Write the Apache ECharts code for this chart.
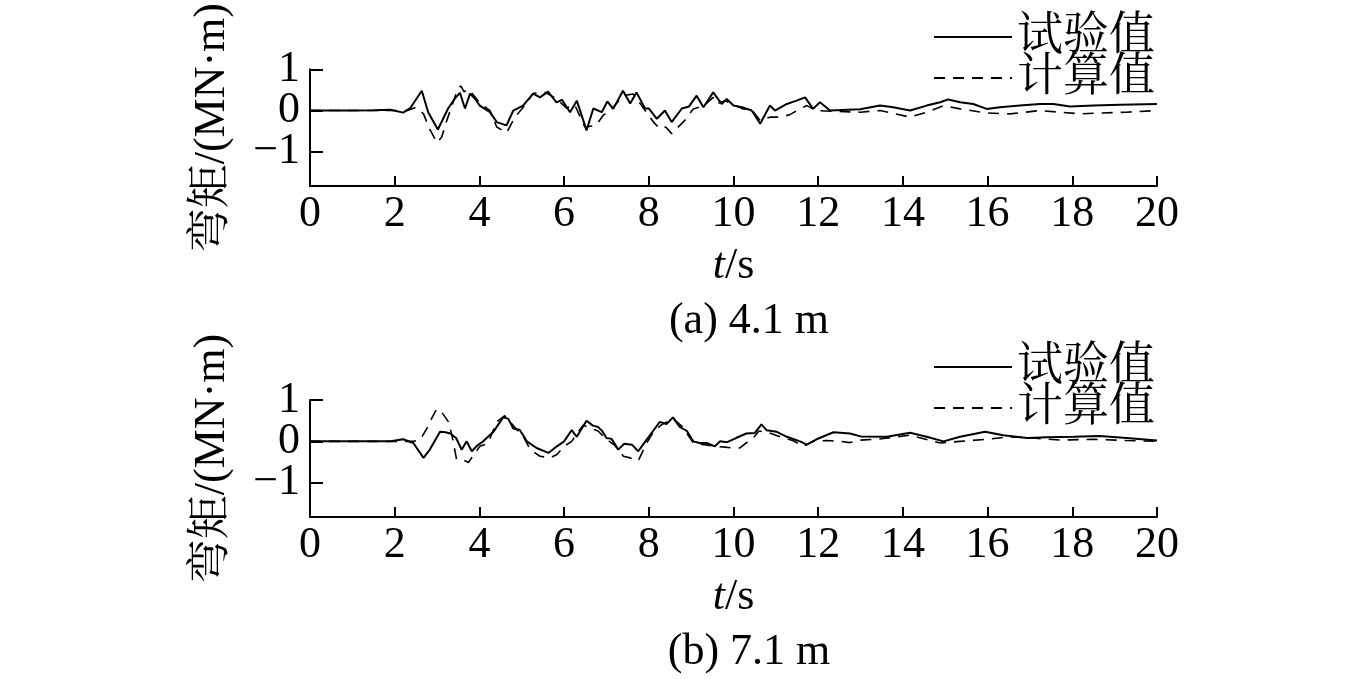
<!DOCTYPE html>
<html><head><meta charset="utf-8">
<script src="https://cdn.jsdelivr.net/npm/echarts@6/dist/echarts.min.js"></script>
<style>html,body{margin:0;padding:0;background:#fff}#c{width:1354px;height:679px}</style>
</head><body><div id="c"></div>
<script>
// (a) 4.1 m — experimental
const tA_exp = [0,1,1.5,1.9,2.2,2.36,2.64,2.79,3.02,3.26, 3.42,3.54,3.66,3.78,3.9,4.01,4.25,4.41,4.64,4.8, 5.03,5.27,5.43,5.62,5.82,5.95,6.14,6.3,6.53,6.69, 6.89,7.02,7.16,7.39,7.56,7.71,7.91,8.0,8.19,8.38, 8.54,8.78,8.95,9.13,9.29,9.52,9.72,9.84,10.0,10.2, 10.43,10.63,10.86,10.98,11.26,11.49,11.69,11.88,12.04,12.28, 12.99,13.46,13.77,14.17,14.56,14.88,15.07,15.35,15.66,15.98, 16.29,16.76,17.24,17.55,17.95,18.5,19.13,20];
const vA_exp = [0,0,0.01,0.02,-0.05,0.05,0.48,-0.04,-0.46,0.05, 0.29,0.43,0.05,0.41,0.28,0.12,-0.04,-0.28,-0.36,0, 0.12,0.41,0.32,0.46,0.2,0.26,-0.04,0.24,-0.48,0.05, -0.04,0.22,0.04,0.48,0.17,0.44,0.05,0.05,-0.2,0, -0.28,0.05,0.1,0.36,0.08,0.44,0.16,0.28,0.12,0.08, 0,-0.32,0.12,0,0.16,0.24,0.32,0.04,0.2,0, 0.03,0.12,0.08,0,0.12,0.2,0.27,0.2,0.16,0.04, 0.08,0.12,0.16,0.16,0.1,0.12,0.14,0.16];
// (a) 4.1 m — calculated
const tA_cal = [0,1,2,2.3,2.5,2.68,2.83,3.0,3.11,3.23, 3.36,3.48,3.56,3.64,3.72,3.84,4.01,4.25,4.41,4.64, 4.84,5.05,5.27,5.55,5.8,6.06,6.25,6.49,6.75,6.92, 7.16,7.39,7.63,7.86,8.11,8.26,8.4,8.54,8.85,9.05, 9.3,9.52,9.6,9.8,10.0,10.23,10.43,10.63,10.86,11.1, 11.33,11.57,11.73,11.96,12.36,12.99,13.46,14.17,14.56,14.96, 15.35,15.98,16.53,17.24,17.71,18.18,18.65,19.28,20];
const vA_cal = [0,0,0,0,0.08,-0.08,-0.46,-0.78,-0.64,-0.24, 0.14,0.5,0.6,0.45,0.52,0.4,0.18,0,-0.4,-0.54, -0.16,0.1,0.42,0.44,0.3,0.06,0.14,-0.4,-0.36,-0.12, 0.08,0.36,0.4,0.08,-0.28,-0.44,-0.4,-0.56,-0.24,0.04, 0.12,0.32,0.16,0.24,0.14,0.04,0.02,-0.24,-0.16,-0.16, -0.1,0.04,0.12,0,-0.02,-0.04,0,-0.16,-0.04,0.12, 0.04,-0.06,-0.08,0,-0.04,-0.08,-0.06,-0.04,0];
// (b) 7.1 m — experimental
const tB_exp = [0,1,1.9,2.2,2.44,2.68,2.83,3.07,3.2,3.31, 3.45,3.58,3.7,3.82,3.95,4.09,4.33,4.56,4.68,4.8, 4.95,5.12,5.35,5.63,5.83,6.0,6.18,6.3,6.53,6.68, 6.8,6.9,7.0,7.12,7.28,7.42,7.6,7.75,7.95,8.1, 8.26,8.42,8.57,8.73,8.9,9.05,9.2,9.37,9.56,9.68, 9.85,10.06,10.3,10.5,10.66,10.78,11.02,11.26,11.57,11.73, 11.96,12.36,12.75,13.0,13.62,14.17,14.56,14.96,15.35,15.94, 16.37,16.93,17.4,18.02,18.65,19.28,20];
const vB_exp = [0,0,0,0.05,-0.04,-0.4,-0.2,0.23,0.22,0.19, 0.08,-0.2,0,-0.24,-0.1,0,0.23,0.58,0.55,0.31, 0.28,0,-0.16,-0.28,-0.12,0,0.27,0.11,0.5,0.38, 0.35,0.25,0.08,0.06,-0.2,-0.06,-0.08,-0.24,0.04,0.25, 0.47,0.42,0.58,0.35,0.25,0,-0.04,-0.04,-0.12,0, -0.02,0.08,0.19,0.2,0.41,0.27,0.23,0.11,0,-0.08, 0.05,0.22,0.19,0.12,0.11,0.21,0.11,0,0.11,0.23, 0.15,0.08,0.1,0.11,0.13,0.08,0.02];
// (b) 7.1 m — calculated
const tB_cal = [0,1,2,2.45,2.6,2.76,2.87,2.99,3.1,3.27, 3.35,3.46,3.6,3.74,3.9,4.01,4.2,4.41,4.6,4.8, 5.04,5.2,5.43,5.67,5.83,6.0,6.18,6.3,6.45,6.6, 6.8,7.0,7.2,7.4,7.56,7.75,7.95,8.11,8.3,8.57, 8.8,9.05,9.3,9.56,9.8,9.99,10.15,10.35,10.47,10.6, 10.8,11.1,11.4,11.65,11.88,12.2,12.51,12.75,13.0,13.4, 14.17,14.88,15.35,15.98,16.53,17.08,17.71,18.5,19.28,20];
const vB_cal = [0,0,0,0,0.04,0.31,0.55,0.78,0.72,0.47, 0.15,-0.43,-0.44,-0.51,-0.28,-0.12,-0.05,0.47,0.62,0.38, 0.11,-0.2,-0.36,-0.4,-0.32,-0.12,0,0.18,0.39,0.33, 0.25,0.05,-0.1,-0.36,-0.4,-0.47,-0.04,0.23,0.4,0.55, 0.35,-0.04,-0.08,-0.12,-0.14,-0.16,-0.16,0,0.08,0.25, 0.22,0.11,0.02,-0.12,0,0.02,0,-0.03,0.03,0.05, 0.15,-0.04,0,0.05,0.11,0.08,0.03,0.05,0.02,0];

const seriesNames = ['试验值', '计算值'];
const xTicks = [0, 20, 2];
const yTickValues = [-1, 0, 1];
const yOuterLabels = [-1, 1];
const yInnerLabels = [0];
const captions = ['(a) 4.1 m', '(b) 7.1 m'];
const yName = '弯矩/(MN·m)';

function zip(t, v) { const n = Math.min(t.length, v.length); const o = []; for (let i = 0; i < n; i++) o.push([t[i], v[i]]); return o; }

const FONT = '"Times New Roman", "Liberation Serif", "Noto Serif CJK SC", "Noto Sans CJK SC", serif';
const FS = 44;
const black = '#000';
const Y_MIN = -1.83, Y_MAX = 1;
const fmt = v => String(v).replace('-', '\u2212');

function xAxisOf(i) {
  return {
    gridIndex: i, type: 'value', min: xTicks[0], max: xTicks[1], interval: xTicks[2],
    axisLine: { show: true, onZero: false, lineStyle: { color: black, width: 2 } },
    axisTick: { show: true, inside: true, length: 10, lineStyle: { color: black, width: 2 } },
    splitLine: { show: false },
    axisLabel: { color: black, fontFamily: FONT, fontSize: FS, margin: 6 },
    name: '{i|t}/s', nameLocation: 'middle', nameGap: 58,
    nameTextStyle: { color: black, fontFamily: FONT, fontSize: FS,
      rich: { i: { fontStyle: 'italic', fontFamily: FONT, fontSize: FS, color: black } } }
  };
}
// main y axis: line, ticks at -1/0/1, labels at ±1, axis name
function yAxisMain(i) {
  return {
    gridIndex: i, type: 'value', min: Y_MIN, max: Y_MAX, position: 'left',
    axisLine: { show: true, onZero: false, lineStyle: { color: black, width: 2 } },
    axisTick: { show: true, inside: true, length: 13, customValues: yTickValues, lineStyle: { color: black, width: 2 } },
    splitLine: { show: false },
    axisLabel: { color: black, fontFamily: FONT, fontSize: FS, margin: 10, customValues: yOuterLabels,
      showMinLabel: true, showMaxLabel: true, hideOverlap: false, formatter: fmt },
    name: yName, nameLocation: 'middle', nameGap: 76, nameRotate: 90,
    nameTextStyle: { color: black, fontFamily: FONT, fontSize: FS }
  };
}
// helper y axis: only the "0" label
function yAxisZero(i) {
  return {
    gridIndex: i, type: 'value', min: Y_MIN, max: Y_MAX, position: 'left',
    axisLine: { show: false }, axisTick: { show: false }, splitLine: { show: false },
    axisLabel: { color: black, fontFamily: FONT, fontSize: FS, margin: 10, customValues: yInnerLabels,
      showMinLabel: true, showMaxLabel: true, hideOverlap: false, formatter: fmt }
  };
}
function lineSeries(name, i, yi, data, dashed) {
  return {
    name: name, type: 'line', xAxisIndex: i, yAxisIndex: yi, data: data,
    showSymbol: false, symbol: 'none', animation: false,
    lineStyle: { color: black, width: dashed ? 1.6 : 2, type: dashed ? [11, 8] : 'solid' },
    itemStyle: { color: black }
  };
}
function legendOf(top) {
  return {
    data: seriesNames, orient: 'vertical', left: 928, top: top,
    itemWidth: 78, itemHeight: 14, itemGap: -5,
    selectedMode: false,
    itemStyle: { color: 'rgba(0,0,0,0)', borderColor: 'rgba(0,0,0,0)', borderWidth: 0, opacity: 0 },
    textStyle: { color: black, fontFamily: FONT, fontSize: 46, padding: 0 }
  };
}

const chart = echarts.init(document.getElementById('c'), null, { renderer: 'canvas' });
chart.setOption({
  backgroundColor: '#fff',
  animation: false,
  grid: [
    { left: 310, width: 847, top: 69, height: 117 },
    { left: 310, width: 847, top: 400, height: 117 }
  ],
  xAxis: [xAxisOf(0), xAxisOf(1)],
  yAxis: [yAxisMain(0), yAxisZero(0), yAxisMain(1), yAxisZero(1)],
  legend: [legendOf(9), legendOf(339)],
  title: [
    { text: captions[0], left: 744, top: 294, textAlign: 'center', textStyle: { color: black, fontFamily: FONT, fontSize: FS, fontWeight: 'normal' } },
    { text: captions[1], left: 744, top: 625, textAlign: 'center', textStyle: { color: black, fontFamily: FONT, fontSize: FS, fontWeight: 'normal' } }
  ],
  series: [
    lineSeries(seriesNames[0], 0, 0, zip(tA_exp, vA_exp), false),
    lineSeries(seriesNames[1], 0, 0, zip(tA_cal, vA_cal), true),
    lineSeries(seriesNames[0], 1, 2, zip(tB_exp, vB_exp), false),
    lineSeries(seriesNames[1], 1, 2, zip(tB_cal, vB_cal), true)
  ]
});
</script>
</body></html>
